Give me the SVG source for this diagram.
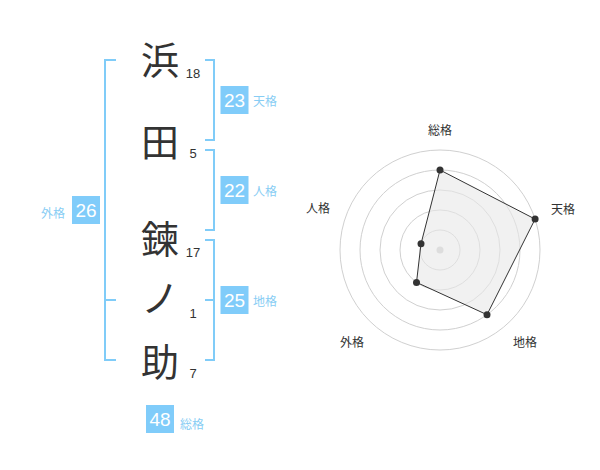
<svg xmlns="http://www.w3.org/2000/svg" width="600" height="470" viewBox="0 0 600 470">
<style>
.k{font-family:"Noto Sans CJK JP","Noto Sans CJK SC",sans-serif;font-size:38px;fill:#333;text-anchor:middle}
.n{font-family:"Liberation Sans",Arial,sans-serif;font-size:13px;fill:#333;text-anchor:middle}
.br{fill:none;stroke:#80ccf8;stroke-width:2}
.box{fill:#80ccfa}
.bt{font-family:"Liberation Sans",Arial,sans-serif;font-size:19px;fill:#fff;text-anchor:middle}
.lb{font-family:"Noto Sans CJK JP",sans-serif;font-size:12px;fill:#88cdf4}
.ring{fill:none;stroke:#d0d0d0;stroke-width:1}
.rl{font-family:"Noto Sans CJK JP",sans-serif;font-size:12px;fill:#333;text-anchor:middle}
.dot{fill:#333}
</style>
<rect width="600" height="470" fill="#fff"/>
<g id="connectors">
<path class="br" d="M205,60H214V140H205"/>
<path class="br" d="M205,150H214V230H205"/>
<path class="br" d="M205,240H214V360H205M205,300H214"/>
<path class="br" d="M116,60H105V360H116M105,300H116"/>
</g>
<g id="name">
<g id="c1"><text class="k" x="160" y="74">浜</text><text class="n" x="193" y="78">18</text></g>
<g id="c2"><text class="k" x="160" y="156">田</text><text class="n" x="193" y="158">5</text></g>
<g id="c3"><text class="k" x="160" y="253">鍊</text><text class="n" x="193" y="257">17</text></g>
<g id="c4"><text class="k" x="160" y="312">ノ</text><text class="n" x="193" y="318">1</text></g>
<g id="c5"><text class="k" x="160" y="376">助</text><text class="n" x="193" y="378">7</text></g>
</g>
<g id="tenkaku"><rect class="box" x="220.5" y="86" width="28" height="28"/><text class="bt" x="234.5" y="107">23</text><text class="lb" x="253" y="106">天格</text></g>
<g id="jinkaku"><rect class="box" x="220.5" y="176" width="28" height="28"/><text class="bt" x="234.5" y="197">22</text><text class="lb" x="253" y="196">人格</text></g>
<g id="chikaku"><rect class="box" x="220.5" y="286" width="28" height="28"/><text class="bt" x="234.5" y="307">25</text><text class="lb" x="253" y="306">地格</text></g>
<g id="gaikaku"><rect class="box" x="72" y="196" width="28" height="28"/><text class="bt" x="86" y="217">26</text><text class="lb" x="41" y="218">外格</text></g>
<g id="soukaku"><rect class="box" x="146" y="405" width="28" height="28"/><text class="bt" x="160" y="426">48</text><text class="lb" x="180" y="429">総格</text></g>
<g id="radar">
<circle class="ring" cx="440" cy="250" r="20"/>
<circle class="ring" cx="440" cy="250" r="40"/>
<circle class="ring" cx="440" cy="250" r="60"/>
<circle class="ring" cx="440" cy="250" r="80"/>
<circle class="ring" cx="440" cy="250" r="100"/>
<circle cx="440" cy="250" r="3.5" fill="#ccc"/>
<polygon points="440,170 535.1,219.1 487,314.7 416.5,282.4 421,243.8" fill="#e8e8e8" fill-opacity="0.6" stroke="#333" stroke-width="1"/>
<circle class="dot" cx="440" cy="170" r="3.5"/>
<circle class="dot" cx="535.1" cy="219.1" r="3.5"/>
<circle class="dot" cx="487" cy="314.7" r="3.5"/>
<circle class="dot" cx="416.5" cy="282.4" r="3.5"/>
<circle class="dot" cx="421" cy="243.8" r="3.5"/>
<text class="rl" x="440" y="135">総格</text>
<text class="rl" x="563" y="214">天格</text>
<text class="rl" x="525" y="347">地格</text>
<text class="rl" x="352" y="347">外格</text>
<text class="rl" x="318" y="213">人格</text>
</g>
</svg>
